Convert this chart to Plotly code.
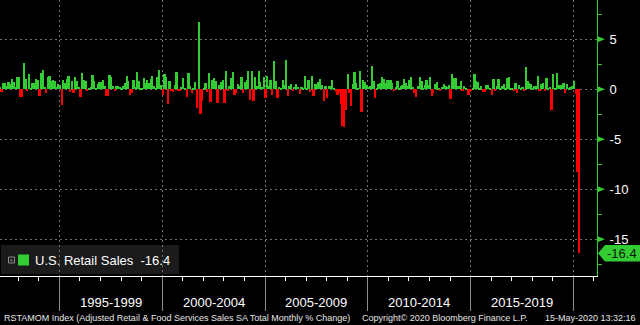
import plotly.graph_objects as go
import pandas as pd

# Monthly % change, Feb-1992 .. Apr-2020
v1992 = [0.2, -0.3, 0.6, 0.6, 0.35, 0.7, 0.5, 1.0, 0.7, 0.2, 1.2]
v1993 = [1.2, -0.75, -0.75, 2.6, 1.0, -0.1, 1.5, 0.1, 0.6, 0.6, 1.0, 0.9]
v1994 = [-0.7, 1.6, 1.9, 0.2, -0.4, 1.2, 1.3, 0.8, 0.9, 0.8, 0.2, 0.5]
v1995 = [0.4, -1.6, 0.9, 0.6, 1.0, 1.3, -0.3, 0.8, -0.4, 1.2, 0.8, 0.2]
v1996 = [-0.8, 1.6, 0.9, 0.8, -0.1, 0.1, 0.2, 1.4, 0.8, 0.1, 0.5, 0.7]
v1997 = [0.7, 0.9, 0.3, -0.7, -0.7, 1.4, 1.2, 0.3, -0.2, 0.3, 0.3, 0.2]
v1998 = [0.1, 0.3, 0.6, 1.3, 0.8, -0.6, -0.4, 0.9, 0.2, 1.7, 0.8, 0.1]
v1999 = [0.1, 1.1, 0.6, 0.9, 0.6, 1.0, 1.3, 0.3, 0.1, 1.2, 1.9, 0.4]
v2000 = [-0.6, 1.5, 1.2, -1.5, 0.8, -0.1, -0.3, 0.4, 1.7, -0.1, -0.2, 0.2]
v2001 = [1.1, 0.1, -0.8, 1.6, 0.3, -0.4, 0.1, 0.7, -1.9, 6.7, -2.5, -1.2]
v2002 = [0.1, 0.6, -0.3, 1.6, -1.3, 0.9, 1.1, 0.8, -1.4, 0.4, 0.7, 0.9]
v2003 = [-1.4, 1.8, -0.2, 0.3, 1.1, 1.7, -0.6, -0.4, 0.5, 0.3, 1.2, -0.4]
v2004 = [0.7, 0.9, 1.8, -1.1, 1.8, -1.2, 1.2, 0.3, 1.8, 0.7, 0.2, 1.2]
v2005 = [-0.9, 1.3, 0.3, 0.9, -0.6, 2.8, 0.8, -0.9, 0.2, 0.1, 0.9, 0.4]
v2006 = [2.9, -0.7, 0.3, 0.5, -0.2, 0.2, 0.5, 0.2, -0.5, 0.2, 0.1, 1.3]
v2007 = [0.1, 0.9, -0.3, 1.3, -0.7, 0.5, 0.5, 0.7, 1.0, 0.4, -1.2, 0.3]
v2008 = [-0.9, 0.3, 0.3, 0.9, 0.1, -0.3, -0.6, -0.4, -1.5, -3.7, -3.8, -2.1]
v2009 = [1.5, -0.4, -1.7, 0.5, 1.7, 0.6, 0.1, 1.8, -2.3, 0.9, 0.7, 0.4]
v2010 = [0.2, 0.3, 2.3, 0.8, -0.9, 0.1, 0.5, 0.6, 1.2, 1.0, 0.6, 0.9]
v2011 = [0.9, 0.9, 0.6, -0.1, 0.2, 0.8, 0.1, 0.3, 0.4, 1.0, 0.6, 0.3]
v2012 = [0.9, 1.2, 0.2, -0.4, -0.8, 0.3, 1.2, 0.8, 0.1, 0.4, 0.9, 0.4]
v2013 = [1.2, -0.7, -0.4, 0.5, 0.7, 0.1, -0.1, 0.2, 0.5, 0.3, 0.2, 0.4]
v2014 = [-1.0, 1.5, 1.1, 1.1, 0.3, 0.3, 0.8, -0.1, 0.3, 0.1, -0.6, -0.6]
v2015 = [-0.2, 0.1, 1.5, 0.8, 0.7, 0.1, 0.3, -0.3, -0.3, 0.4, 0.4, 0.1]
v2016 = [-0.6, 1.0, -0.2, 0.3, 1.0, 0.1, 0.3, 0.5, 0.1, 1.1, 1.2, 0.1]
v2017 = [0.1, -0.2, 0.6, -0.4, 0.4, 0.1, 0.2, -0.1, 2.2, 0.8, 0.6, 0.5]
v2018 = [0.1, 0.3, 0.3, 1.3, -0.2, 0.5, 0.6, -0.2, 1.1, 0.1, 0.2, -2.1]
v2019 = [1.5, 0.1, 1.6, 0.4, 0.4, 0.4, 0.6, -0.4, 0.5, 0.1, 0.2, 0.3]
v2020 = [0.8, -0.5, -8.3, -16.4]

period_labels = ["1995-1999", "2000-2004", "2005-2009", "2010-2014", "2015-2019"]
period_centers = ["1997-07-02", "2002-07-02", "2007-07-02", "2012-07-02", "2017-07-02"]
y_tick_vals = [5, 0, -5, -10, -15]
y_tick_text = ["5", "0", "-5", "-10", "-15"]
series_name = "U.S. Retail Sales"
last_value = -16.4

values = (v1992 + v1993 + v1994 + v1995 + v1996 + v1997 + v1998 + v1999 + v2000 +
          v2001 + v2002 + v2003 + v2004 + v2005 + v2006 + v2007 + v2008 + v2009 +
          v2010 + v2011 + v2012 + v2013 + v2014 + v2015 + v2016 + v2017 + v2018 +
          v2019 + v2020)
dates = pd.date_range("1992-02-01", periods=len(values), freq="MS") + pd.Timedelta(days=14)

GREEN = "#33cc33"
RED = "#ff0000"
colors = [GREEN if v >= 0 else RED for v in values]

YMIN, YMAX = -18.67, 8.93
W_PLOT, H_PLOT = 597, 276


def py(v):  # data value -> paper y
    return (v - YMIN) / (YMAX - YMIN)


def pxx(p):  # pixel x -> paper x
    return p / W_PLOT


def pyy(p):  # pixel y -> paper y
    return (H_PLOT - p) / H_PLOT


fig = go.Figure()
fig.add_trace(go.Bar(x=dates, y=values, marker=dict(color=colors, line=dict(width=0)),
                     width=31 * 86400000, showlegend=False, hoverinfo="skip"))

grid = "#707070"
fig.update_layout(
    width=640, height=325,
    margin=dict(l=0, r=43, t=0, b=49),
    paper_bgcolor="black", plot_bgcolor="black",
    bargap=0,
    showlegend=False,
    font=dict(family="Liberation Sans, Arial, sans-serif", color="white"),
    xaxis=dict(
        type="date",
        range=["1992-02-11", "2021-02-24"],
        tick0="1995-01-01", dtick="M60",
        ticks="outside", ticklen=34, tickcolor="#8c8c8c", tickwidth=1,
        showticklabels=False,
        showgrid=True, gridcolor=grid, griddash="2px,3px", gridwidth=1,
        showline=True, linecolor="white", linewidth=1,
        minor=dict(dtick="M12", tick0="1992-01-01", ticks="outside", ticklen=4,
                   tickcolor="white", showgrid=False),
        fixedrange=True,
    ),
    yaxis=dict(
        side="right",
        range=[YMIN, YMAX],
        tickvals=y_tick_vals, ticktext=y_tick_text,
        ticks="", ticklabelstandoff=9,
        tickfont=dict(size=13, color="white"),
        showgrid=True, gridcolor=grid, griddash="2px,3px", gridwidth=1,
        zeroline=False,
        showline=True, linecolor=GREEN, linewidth=1,
        minor=dict(dtick=2.5, tick0=0, ticks="outside", ticklen=4, tickcolor=GREEN,
                   showgrid=False),
        fixedrange=True,
    ),
)

shapes = []
# major y tick triangles
for v in y_tick_vals:
    y0 = py(v)
    dy = 3 / H_PLOT
    shapes.append(dict(type="path", xref="paper", yref="paper",
                       path=f"M {pxx(597.5)},{y0 + dy} L {pxx(605)},{y0} L {pxx(597.5)},{y0 - dy} Z",
                       fillcolor=GREEN, line=dict(width=0)))
# last value box
yl = py(last_value)
top = yl + 8.3 / H_PLOT
bot = yl - 8.3 / H_PLOT
shapes.append(dict(type="path", xref="paper", yref="paper",
                   path=f"M {pxx(598)},{yl} L {pxx(605)},{top} L {pxx(640)},{top} L {pxx(640)},{bot} L {pxx(605)},{bot} Z",
                   fillcolor=GREEN, line=dict(width=0)))
# legend box
shapes.append(dict(type="rect", xref="paper", yref="paper", layer="below",
                   x0=pxx(1), x1=pxx(179), y0=pyy(274), y1=pyy(245),
                   fillcolor="#1b1b1b", line=dict(width=0)))
shapes.append(dict(type="rect", xref="paper", yref="paper",
                   x0=pxx(18), x1=pxx(29), y0=pyy(265.5), y1=pyy(254.5),
                   fillcolor=GREEN, line=dict(width=0)))
shapes.append(dict(type="rect", xref="paper", yref="paper",
                   x0=pxx(8.5), x1=pxx(14.5), y0=pyy(263), y1=pyy(257),
                   fillcolor="rgba(0,0,0,0)", line=dict(width=1, color="#8a8a8a")))
fig.update_layout(shapes=shapes)

ann = []
ann.append(dict(x=pxx(11.5), y=pyy(260), xref="paper", yref="paper", text="+",
                showarrow=False, font=dict(size=8, color="#8a8a8a"), xanchor="center", yanchor="middle"))
ann.append(dict(x=pxx(33), y=pyy(260), xref="paper", yref="paper",
                text=f"{series_name}  {last_value}", showarrow=False,
                font=dict(size=13, color="white"), xanchor="left", yanchor="middle"))
ann.append(dict(x=pxx(622), y=yl, xref="paper", yref="paper", text=f"{last_value}",
                showarrow=False, font=dict(size=13, color="#0a1a0a"),
                xanchor="center", yanchor="middle"))
for lab, c in zip(period_labels, period_centers):
    ann.append(dict(x=c, y=pyy(302), xref="x", yref="paper", text=lab, showarrow=False,
                    font=dict(size=13, color="white"), xanchor="center", yanchor="middle"))
foot = dict(size=9, color="#e6e6e6")
ann.append(dict(x=pxx(2), y=pyy(318), xref="paper", yref="paper",
                text="RSTAMOM Index (Adjusted Retail &amp; Food Services Sales SA Total Monthly % Change)",
                showarrow=False, font=foot, xanchor="left", yanchor="middle"))
ann.append(dict(x=pxx(360), y=pyy(318), xref="paper", yref="paper",
                text="Copyright© 2020 Bloomberg Finance L.P.",
                showarrow=False, font=foot, xanchor="left", yanchor="middle"))
ann.append(dict(x=pxx(638), y=pyy(318), xref="paper", yref="paper",
                text="15-May-2020 13:32:16",
                showarrow=False, font=foot, xanchor="right", yanchor="middle"))
fig.update_layout(annotations=ann)

fig.write_html("out.html", config={"displayModeBar": False},
               post_script="document.body.style.margin='0';document.body.style.padding='0';")
